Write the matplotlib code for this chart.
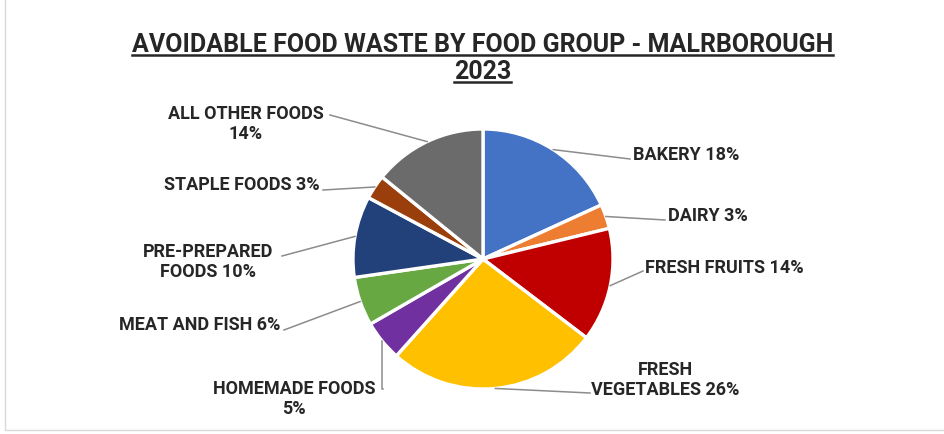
import numpy as np
import matplotlib.pyplot as plt

plt.rcParams['font.family'] = ['Roboto', 'DejaVu Sans']

groups = ['BAKERY', 'DAIRY', 'FRESH FRUITS', 'FRESH VEGETABLES', 'HOMEMADE FOODS',
          'MEAT AND FISH', 'PRE-PREPARED FOODS', 'STAPLE FOODS', 'ALL OTHER FOODS']
shares = [18, 3, 14, 26, 5, 6, 10, 3, 14]
label_text = ['BAKERY 18%', 'DAIRY 3%', 'FRESH FRUITS 14%', 'FRESH\nVEGETABLES 26%',
              'HOMEMADE FOODS\n5%', 'MEAT AND FISH 6%', 'PRE-PREPARED\nFOODS 10%',
              'STAPLE FOODS 3%', 'ALL OTHER FOODS\n14%']
colors = ['#4472C4', '#ED7D31', '#C00000', '#FFC000', '#7030A0',
          '#68A843', '#22417A', '#9A3F0C', '#6B6B6B']

W, H = 945, 435
fig = plt.figure(figsize=(W / 100, H / 100), dpi=100)
ax = fig.add_axes([0, 0, 1, 1])

cx, cy, r = 483, H - 260, 130
explode = [0.02, 0.02, 0.02, 0.045, 0.02, 0.02, 0.02, 0.02, 0.02]
wedges, _ = ax.pie(shares, colors=colors, startangle=90, counterclock=False,
                   center=(cx, cy), radius=r, explode=explode,
                   wedgeprops=dict(edgecolor='white', linewidth=2.4))
ax.set_xlim(0, W)
ax.set_ylim(0, H)
ax.set_aspect('equal')
ax.axis('off')

# label anchor (x, y in pixels from the top), text alignment, elbow end of leader
labels_pos = [
    (633, 155, 'left', (630, 160)),
    (668, 216, 'left', (665, 221)),
    (645, 268, 'left', (643, 272)),
    (665, 380, 'center', (590, 394)),
    (294, 399, 'center', (383, 390)),
    (280, 325, 'right', (284, 331)),
    (208, 262, 'center', (282, 257)),
    (320, 185, 'right', (323, 191)),
    (246, 124, 'center', (330, 116)),
]

for w, txt, (tx, ty, ha, (ex, ey)) in zip(wedges, label_text, labels_pos):
    mid = np.deg2rad((w.theta1 + w.theta2) / 2)
    wx, wy = w.center
    px = wx + w.r * np.cos(mid)
    py = wy + w.r * np.sin(mid)
    if txt.startswith('HOMEMADE'):
        ax.plot([px, px, ex], [py, H - ey, H - ey], color='#8C8C8C', lw=1.1)
    else:
        ax.plot([px, ex], [py, H - ey], color='#8C8C8C', lw=1.1)
    ax.text(tx, H - ty, txt, ha=ha, va='center', fontsize=13,
            fontweight='bold', color='#262626', linespacing=1.15)

ax.text(W / 2 + 10, H - 45, 'AVOIDABLE FOOD WASTE BY FOOD GROUP - MALRBOROUGH',
        ha='center', va='center', fontsize=18, fontweight='bold', color='#262626')
ax.text(W / 2 + 10, H - 72, '2023', ha='center', va='center', fontsize=18,
        fontweight='bold', color='#262626')
# underlines under the title lines
fig.canvas.draw()
for t in ax.texts[-2:]:
    bb = t.get_window_extent().transformed(ax.transData.inverted())
    ax.plot([bb.x0, bb.x1], [bb.y0 + 1, bb.y0 + 1], color='#262626', lw=1.8)

ax.plot([5, 5, W], [H, H - 431, H - 431], color='#D9D9D9', lw=1)

fig.savefig('out.png', dpi=100, facecolor='white')
